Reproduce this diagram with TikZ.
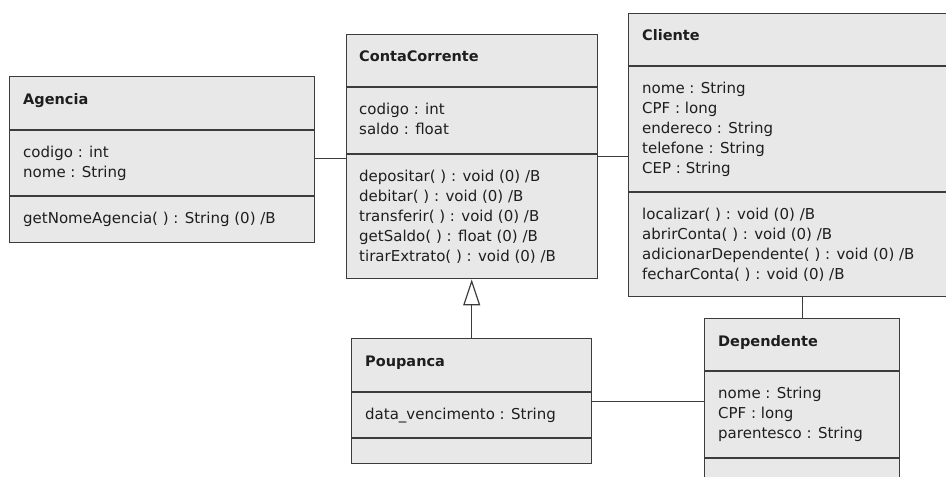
\documentclass[tikz,border=0pt]{standalone}
\usepackage{fontspec}
\setmainfont{DejaVu Sans}
\usetikzlibrary{arrows.meta}

\definecolor{boxfill}{HTML}{E8E8E8}
\definecolor{boxline}{HTML}{3C3C3C}
\definecolor{ink}{HTML}{1E1E1E}

\tikzset{
  classbox/.style={draw=boxline, fill=boxfill, line width=1.4pt,
    rectangle, inner sep=0pt, anchor=north west},
  divider/.style={draw=boxline, line width=1.4pt},
  member/.style={anchor=west, inner sep=0pt, text=ink,
    font=\fontsize{15}{18}\selectfont, text height=10.5pt, text depth=2.5pt},
  classname/.style={member, font=\fontsize{14.5}{18}\selectfont\bfseries},
  assoc/.style={draw=boxline, line width=1.2pt},
  generalize/.style={assoc, -{Triangle[length=26pt, width=17pt, fill=white]}}
}

\begin{document}
\begin{tikzpicture}[x=1pt, y=-1pt]
\useasboundingbox (0,0) rectangle (946,477);
\clip (0,0) rectangle (946,477);

% ---------- Agencia ----------
\node[classbox, minimum width=305pt, minimum height=166pt] (agencia) at (9,76) {};
\draw[divider] (9,130) -- (314,130);
\draw[divider] (9,196) -- (314,196);
\node[classname] (ag-name) at (23,100) {Agencia};
\node[member] (ag-a1) at (23,153) {codigo : int};
\node[member] (ag-a2) at (23,173) {nome : String};
\node[member] (ag-m1) at (23,219) {getNomeAgencia( ) : String (0) /B};

% ---------- ContaCorrente ----------
\node[classbox, minimum width=251pt, minimum height=244pt] (conta) at (346,34) {};
\draw[divider] (346,87) -- (597,87);
\draw[divider] (346,154) -- (597,154);
\node[classname] (cc-name) at (359,57) {ContaCorrente};
\node[member] (cc-a1) at (359,110) {codigo : int};
\node[member] (cc-a2) at (359,130) {saldo : float};
\node[member] (cc-m1) at (359,177) {depositar( ) : void (0) /B};
\node[member] (cc-m2) at (359,197) {debitar( ) : void (0) /B};
\node[member] (cc-m3) at (359,217) {transferir( ) : void (0) /B};
\node[member] (cc-m4) at (359,237) {getSaldo( ) : float (0) /B};
\node[member] (cc-m5) at (359,257) {tirarExtrato( ) : void (0) /B};

% ---------- Cliente ----------
\node[classbox, minimum width=340pt, minimum height=283pt] (cliente) at (628,13) {};
\draw[divider] (628,66) -- (968,66);
\draw[divider] (628,192) -- (968,192);
\node[classname] (cl-name) at (642,36) {Cliente};
\node[member] (cl-a1) at (642,89) {nome : String};
\node[member] (cl-a2) at (642,109) {CPF : long};
\node[member] (cl-a3) at (642,129) {endereco : String};
\node[member] (cl-a4) at (642,149) {telefone : String};
\node[member] (cl-a5) at (642,169) {CEP : String};
\node[member] (cl-m1) at (642,215) {localizar( ) : void (0) /B};
\node[member] (cl-m2) at (642,235) {abrirConta( ) : void (0) /B};
\node[member] (cl-m3) at (642,255) {adicionarDependente( ) : void (0) /B};
\node[member] (cl-m4) at (642,275) {fecharConta( ) : void (0) /B};

% ---------- Poupanca ----------
\node[classbox, minimum width=240pt, minimum height=125pt] (poupanca) at (351,338) {};
\draw[divider] (351,392) -- (591,392);
\draw[divider] (351,438) -- (591,438);
\node[classname] (pp-name) at (365,362) {Poupanca};
\node[member] (pp-a1) at (365,415) {data\_vencimento : String};

% ---------- Dependente ----------
\node[classbox, minimum width=195pt, minimum height=172pt] (dependente) at (704,318) {};
\draw[divider] (704,371) -- (899,371);
\draw[divider] (704,458) -- (899,458);
\node[classname] (dp-name) at (718,342) {Dependente};
\node[member] (dp-a1) at (718,394) {nome : String};
\node[member] (dp-a2) at (718,414) {CPF : long};
\node[member] (dp-a3) at (718,434) {parentesco : String};

% ---------- relationships ----------
\draw[assoc] ([yshift=1.5pt]agencia.east) -- ([yshift=1.5pt]agencia.east -| conta.west);
\draw[assoc] (conta.east) -- (conta.east -| cliente.west);
\draw[assoc] (dependente.north) -- (dependente.north |- cliente.south);
\draw[assoc] (poupanca.east) -- (poupanca.east -| dependente.west);
\draw[generalize] (poupanca.north) -- (poupanca.north |- conta.south);
\end{tikzpicture}
\end{document}
